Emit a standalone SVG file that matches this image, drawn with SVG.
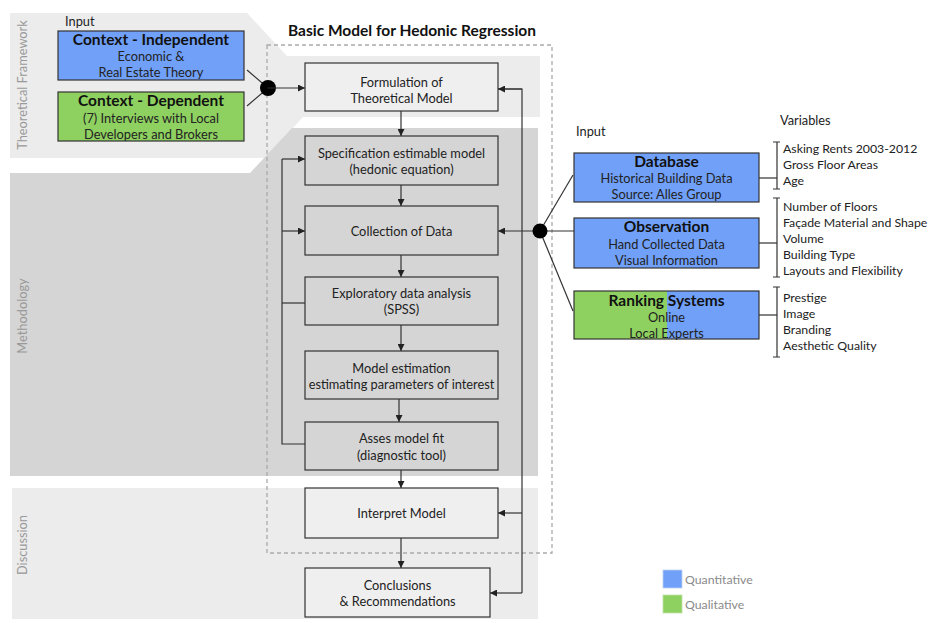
<svg xmlns="http://www.w3.org/2000/svg" width="930" height="623" viewBox="0 0 930 623">
<defs>
<marker id="ah" viewBox="0 0 10 10" refX="10" refY="5" markerWidth="7" markerHeight="7" markerUnits="userSpaceOnUse" orient="auto">
<path d="M0,0 L10,5 L0,10 Z" fill="#222"/>
</marker>
</defs>
<style>
text{font-family:Lato,"Open Sans","Liberation Sans",sans-serif;font-size:12.8px;fill:#222}
.c{text-anchor:middle}
.b{font-weight:bold;font-size:15.5px;fill:#111}
.box{stroke:#333;stroke-width:1.2}
.lt{fill:#efefef}
.dk{fill:#d5d5d5}
.blue{fill:#70a0f8}
.green{fill:#8fd160}
.ln{stroke:#333;stroke-width:1.2;fill:none}
.arr{stroke:#333;stroke-width:1.2;fill:none;marker-end:url(#ah)}
.side{fill:#9a9a9a;font-size:12.8px;text-anchor:middle}
.leg{fill:#8a8a8a;font-size:12.3px}
.v{font-size:12.3px}
</style>
<rect width="930" height="623" fill="#fff"/>
<g id="bands">
<polygon points="10,13 247,13 287,56 540,56 540,117 303,117 265,158 10,158" fill="#ececec"/>
<polygon points="10,173 250,173 292,128 538,128 538,476 10,476" fill="#d5d5d5"/>
<rect x="12" y="488" width="526" height="131" fill="#ececec"/>
<text class="side" transform="translate(27,85) rotate(-90)">Theoretical Framework</text>
<text class="side" transform="translate(27,316) rotate(-90)">Methodology</text>
<text class="side" transform="translate(27,545) rotate(-90)">Discussion</text>
</g>
<g id="model-frame">
<rect x="267" y="45" width="285" height="508" fill="none" stroke="#aaa" stroke-width="1.3" stroke-dasharray="4,3"/>
<text class="b c" x="412" y="36">Basic Model for Hedonic Regression</text>
</g>
<g id="connectors">
<line class="ln" x1="247" y1="70" x2="268" y2="88"/>
<line class="ln" x1="247" y1="106" x2="268" y2="88"/>
<circle cx="268" cy="88" r="8" fill="#000"/>
<line class="arr" x1="268" y1="88" x2="305" y2="88"/>
<line class="arr" x1="401" y1="111" x2="401" y2="136"/>
<line class="arr" x1="401" y1="185" x2="401" y2="206"/>
<line class="arr" x1="401" y1="255" x2="401" y2="277"/>
<line class="arr" x1="401" y1="325" x2="401" y2="351"/>
<line class="arr" x1="399" y1="399" x2="399" y2="422"/>
<line class="arr" x1="401" y1="470" x2="401" y2="488"/>
<line class="arr" x1="401" y1="538" x2="401" y2="568"/>
<polyline class="ln" points="305,444 282,444 282,159"/>
<line class="arr" x1="282" y1="159" x2="305" y2="159"/>
<line class="arr" x1="282" y1="231" x2="305" y2="231"/>
<line class="ln" x1="282" y1="303" x2="305" y2="303"/>
<polyline class="ln" points="498,89 522,89 522,593"/>
<line class="arr" x1="522" y1="89" x2="498" y2="89"/>
<line class="arr" x1="522" y1="513" x2="498" y2="513"/>
<line class="arr" x1="522" y1="593" x2="490" y2="593"/>
<line class="ln" x1="574" y1="231" x2="540" y2="231"/>
<line class="ln" x1="573" y1="175" x2="540" y2="231"/>
<line class="ln" x1="573" y1="311" x2="540" y2="231"/>
<line class="arr" x1="540" y1="231" x2="498" y2="231"/>
<circle cx="540" cy="231" r="7.5" fill="#000"/>
<line class="ln" x1="759" y1="178" x2="777" y2="178"/>
<line class="ln" x1="759" y1="243" x2="777" y2="243"/>
<line class="ln" x1="759" y1="315" x2="777" y2="315"/>
</g>
<g id="input-left">
<text x="65" y="26">Input</text>
</g>
<g id="context-independent">
<rect class="box blue" x="58" y="31" width="186" height="49"/>
<text class="b c" x="151" y="45">Context - Independent</text>
<text class="c" x="151" y="61">Economic &amp;</text>
<text class="c" x="151" y="77">Real Estate Theory</text>
</g>
<g id="context-dependent">
<rect class="box green" x="58" y="92" width="186" height="49"/>
<text class="b c" x="151" y="106">Context - Dependent</text>
<text class="c" x="151" y="122.5">(7) Interviews with Local</text>
<text class="c" x="151" y="138.5">Developers and Brokers</text>
</g>
<g id="formulation">
<rect class="box lt" x="305" y="63" width="193" height="48"/>
<text class="c" x="401.5" y="86.5">Formulation of</text>
<text class="c" x="401.5" y="102.5">Theoretical Model</text>
</g>
<g id="specification">
<rect class="box dk" x="305" y="136" width="193" height="49"/>
<text class="c" x="401.5" y="157.5">Specification estimable model</text>
<text class="c" x="401.5" y="173.5">(hedonic equation)</text>
</g>
<g id="collection">
<rect class="box dk" x="305" y="206" width="193" height="49"/>
<text class="c" x="401.5" y="235.5">Collection of Data</text>
</g>
<g id="exploratory">
<rect class="box dk" x="305" y="277" width="193" height="48"/>
<text class="c" x="401.5" y="297.5">Exploratory data analysis</text>
<text class="c" x="401.5" y="313.5">(SPSS)</text>
</g>
<g id="estimation">
<rect class="box dk" x="305" y="351" width="193" height="48"/>
<text class="c" x="401.5" y="372.5">Model estimation</text>
<text class="c" x="401.5" y="388.5">estimating parameters of interest</text>
</g>
<g id="fit">
<rect class="box dk" x="305" y="422" width="193" height="48"/>
<text class="c" x="401.5" y="442.5">Asses model fit</text>
<text class="c" x="401.5" y="459.5">(diagnostic tool)</text>
</g>
<g id="interpret">
<rect class="box lt" x="305" y="488" width="193" height="50"/>
<text class="c" x="401.5" y="517.5">Interpret Model</text>
</g>
<g id="conclusions">
<rect class="box lt" x="305" y="568" width="185" height="49"/>
<text class="c" x="397.5" y="589.5">Conclusions</text>
<text class="c" x="397.5" y="605.5">&amp; Recommendations</text>
</g>
<g id="input-right">
<text x="576" y="136">Input</text>
<text x="780" y="125">Variables</text>
</g>
<g id="database">
<rect class="box blue" x="574" y="153" width="185" height="49"/>
<text class="b c" x="666.5" y="167">Database</text>
<text class="c" x="666.5" y="182.5">Historical Building Data</text>
<text class="c" x="666.5" y="198.5">Source: Alles Group</text>
</g>
<g id="observation">
<rect class="box blue" x="574" y="218" width="185" height="50"/>
<text class="b c" x="666.5" y="232">Observation</text>
<text class="c" x="666.5" y="248.5">Hand Collected Data</text>
<text class="c" x="666.5" y="264.5">Visual Information</text>
</g>
<g id="ranking">
<rect x="574" y="291" width="93" height="48" class="green"/>
<rect x="667" y="291" width="92" height="48" class="blue"/>
<rect x="574" y="291" width="185" height="48" fill="none" class="box"/>
<text class="b c" x="666.5" y="305.5">Ranking Systems</text>
<text class="c" x="666.5" y="321.5">Online</text>
<text class="c" x="666.5" y="337.5">Local Experts</text>
</g>
<g id="vars-database">
<path class="ln" d="M773,142 H780 M777,142 V189 M773,189 H780"/>
<text class="v" x="783" y="153">Asking Rents 2003-2012</text>
<text class="v" x="783" y="169">Gross Floor Areas</text>
<text class="v" x="783" y="185">Age</text>
</g>
<g id="vars-observation">
<path class="ln" d="M773,198 H780 M777,198 V277 M773,277 H780"/>
<text class="v" x="783" y="211">Number of Floors</text>
<text class="v" x="783" y="227">Façade Material and Shape</text>
<text class="v" x="783" y="243">Volume</text>
<text class="v" x="783" y="259">Building Type</text>
<text class="v" x="783" y="275">Layouts and Flexibility</text>
</g>
<g id="vars-ranking">
<path class="ln" d="M773,287 H780 M777,287 V357 M773,357 H780"/>
<text class="v" x="783" y="302">Prestige</text>
<text class="v" x="783" y="318">Image</text>
<text class="v" x="783" y="334">Branding</text>
<text class="v" x="783" y="350">Aesthetic Quality</text>
</g>
<g id="legend">
<rect x="663" y="570" width="19" height="18" class="blue" stroke="#bcd0f0" stroke-width="0.8"/>
<text class="leg" x="685" y="584">Quantitative</text>
<rect x="663" y="595" width="19" height="18" class="green" stroke="#c0e0a8" stroke-width="0.8"/>
<text class="leg" x="685" y="609">Qualitative</text>
</g>
</svg>
